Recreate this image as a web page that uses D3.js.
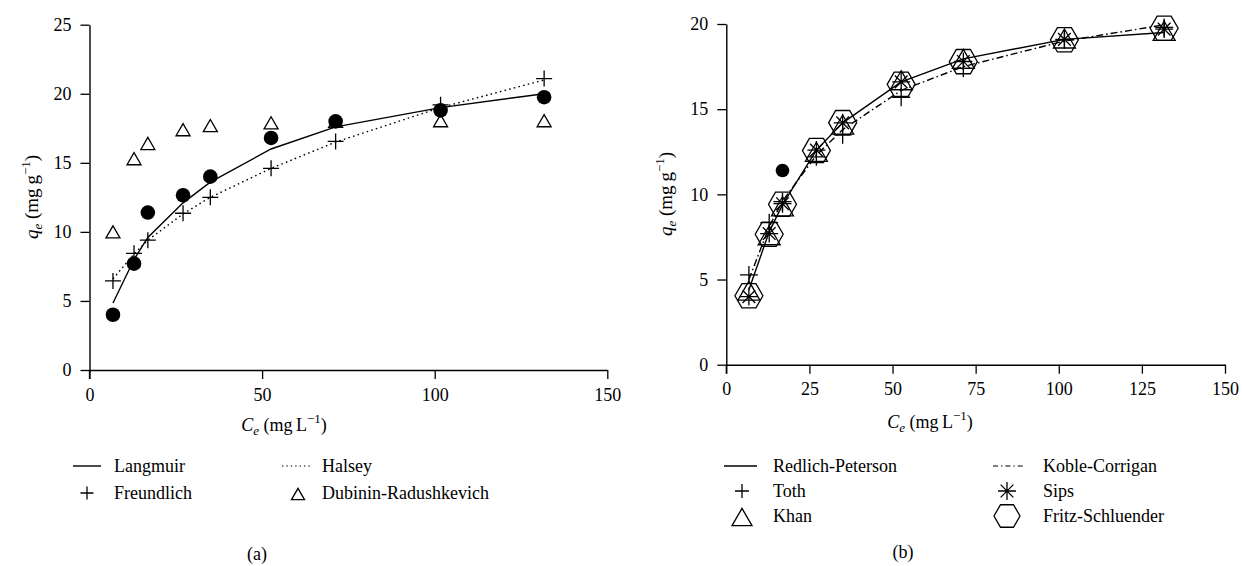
<!DOCTYPE html>
<html>
<head>
<meta charset="utf-8">
<script src="https://cdn.jsdelivr.net/npm/d3@7/dist/d3.min.js"></script>
<style>
  html, body { margin: 0; padding: 0; background: #fff; }
  svg { display: block; }
  text { font-family: "Liberation Serif", "Times New Roman", serif; fill: #000; }
</style>
</head>
<body>
<svg id="fig" width="1242" height="566"></svg>
<script>
// Equilibrium concentration Ce (mg/L) of the nine isotherm points
const ce = [6.8, 12.9, 16.9, 27.1, 35.0, 52.6, 71.3, 101.7, 131.7];
// Experimental uptake qe (mg/g)
const qeExp = [4.0, 7.7, 11.4, 12.65, 14.0, 16.8, 18.0, 18.8, 19.75];

// Panel (a): two-parameter models
const langmuir = [4.85, 8.0, 9.6, 12.1, 13.6, 16.0, 17.6, 19.0, 20.0];
const halsey = [6.6, 8.4, 9.4, 11.3, 12.5, 14.6, 16.5, 19.0, 21.0];
const freundlich = [6.45, 8.45, 9.4, 11.35, 12.5, 14.6, 16.55, 19.2, 21.1];
const dubininRadushkevich = [10.0, 15.3, 16.4, 17.4, 17.7, 17.9, 18.0, 18.05, 18.05];

// Panel (b): three-parameter models
const redlichPeterson = [4.4, 7.8, 9.4, 12.6, 14.2, 16.6, 17.95, 19.1, 19.5];
const kobleCorrigan = [5.0, 8.1, 9.6, 12.3, 13.8, 16.1, 17.5, 19.0, 19.95];
const toth = [5.27, 8.34, 9.57, 12.2, 13.5, 15.7, 17.4, 19.07, 19.8];
const khan = [4.35, 7.6, 9.3, 12.5, 14.1, 16.7, 17.95, 19.15, 19.6];
const sips = [4.0, 7.7, 9.45, 12.6, 14.2, 16.6, 17.8, 19.1, 19.7];
const fritzSchluender = [4.05, 7.66, 9.42, 12.57, 14.21, 16.46, 17.79, 19.07, 19.75];

// Tick values
const xTicksA = [0, 50, 100, 150];
const yTicksA = [0, 5, 10, 15, 20, 25];
const xTicksB = [0, 25, 50, 75, 100, 125, 150];
const yTicksB = [0, 5, 10, 15, 20];

const svg = d3.select("#fig");
const FS = 18;

// ---- marker shapes (path strings centred on 0,0) ----
function plusPath(r) { return `M${-r},0H${r}M0,${-r}V${r}`; }
function trianglePath(s) {
  const h = s * Math.sqrt(3) / 2;
  return `M0,${-h / 2}L${s / 2},${h / 2}L${-s / 2},${h / 2}Z`;
}
function hexagonPath(w) {
  const a = w / 2, b = w / 4, h = w * Math.sqrt(3) / 4;
  return `M${-a},0L${-b},${-h}L${b},${-h}L${a},0L${b},${h}L${-b},${h}Z`;
}
function asteriskPath(r) {
  const d = r * Math.SQRT1_2;
  return `M${-r},0H${r}M0,${-r}V${r}M${-d},${-d}L${d},${d}M${-d},${d}L${d},${-d}`;
}

function axes(g, x, y, xTicks, yTicks) {
  const ax = g.append("g").attr("transform", `translate(0,${y.range()[0]})`)
    .call(d3.axisBottom(x).tickValues(xTicks).tickSize(9).tickPadding(9).tickSizeOuter(0));
  const ay = g.append("g").attr("transform", `translate(${x.range()[0]},0)`)
    .call(d3.axisLeft(y).tickValues(yTicks).tickSize(9).tickPadding(9).tickSizeOuter(0));
  [ax, ay].forEach(a => {
    a.select(".domain").attr("stroke", "#000").attr("stroke-width", 1.4);
    a.selectAll(".tick line").attr("stroke", "#000").attr("stroke-width", 1.3);
    a.selectAll(".tick text").attr("font-size", FS).attr("font-family", "Liberation Serif");
  });
  // a short upward stub at x = 0 makes the corner cross like the y = 0 stub
  g.append("line").attr("x1", x(0)).attr("x2", x(0))
    .attr("y1", y.range()[0]).attr("y2", y.range()[0] + 9)
    .attr("stroke", "#000").attr("stroke-width", 1.3);
}

function yLabel(g, cx, cy) {
  const t = g.append("text").attr("transform", `translate(${cx},${cy}) rotate(-90)`)
    .attr("text-anchor", "middle").attr("font-size", FS + 1);
  t.append("tspan").attr("font-style", "italic").text("q");
  t.append("tspan").attr("font-style", "italic").attr("font-size", 13).attr("dy", 4).text("e");
  t.append("tspan").attr("dy", -4).text(" (mg\u2009g");
  t.append("tspan").attr("font-size", 13).attr("dy", -8).text("\u22121");
  t.append("tspan").attr("dy", 8).text(")");
}
function xLabel(g, cx, by) {
  const t = g.append("text").attr("x", cx).attr("y", by)
    .attr("text-anchor", "middle").attr("font-size", FS);
  t.append("tspan").attr("font-style", "italic").text("C");
  t.append("tspan").attr("font-style", "italic").attr("font-size", 13).attr("dy", 4).text("e");
  t.append("tspan").attr("dy", -4).text(" (mg\u2009L");
  t.append("tspan").attr("font-size", 13).attr("dy", -8).text("\u22121");
  t.append("tspan").attr("dy", 8).text(")");
}

function curve(g, x, y, vals, dash) {
  const line = d3.line().x((d, i) => x(ce[i])).y(d => y(d));
  g.append("path").datum(vals).attr("d", line)
    .attr("fill", "none").attr("stroke", "#000").attr("stroke-width", 1.4)
    .attr("stroke-dasharray", dash || null);
}
function markers(g, x, y, vals, path, fill) {
  g.append("g").selectAll("path").data(vals).join("path")
    .attr("transform", (d, i) => `translate(${x(ce[i])},${y(d)})`)
    .attr("d", path)
    .attr("fill", fill || "none").attr("stroke", "#000").attr("stroke-width", 1.3);
}
function dots(g, x, y, vals, r) {
  g.append("g").selectAll("circle").data(vals).join("circle")
    .attr("cx", (d, i) => x(ce[i])).attr("cy", d => y(d)).attr("r", r).attr("fill", "#000");
}

const DOTTED = "1.6,3.2";
const DASHDOT = "7,3,1.6,3";

// ================= Panel (a) =================
{
  const g = svg.append("g");
  const x = d3.scaleLinear().domain([0, 150]).range([89.5, 607.3]);
  const y = d3.scaleLinear().domain([0, 25]).range([370, 24.7]);
  axes(g, x, y, xTicksA, yTicksA);
  curve(g, x, y, langmuir);
  curve(g, x, y, halsey, DOTTED);
  markers(g, x, y, freundlich, plusPath(8));
  markers(g, x, y, dubininRadushkevich, trianglePath(14));
  dots(g, x, y, qeExp, 7.3);
  yLabel(g, 38, 197);
  xLabel(g, 284, 431);

  // legend
  const L = g.append("g").attr("font-size", FS);
  L.append("line").attr("x1", 73).attr("x2", 101).attr("y1", 466).attr("y2", 466)
    .attr("stroke", "#000").attr("stroke-width", 1.4);
  L.append("text").attr("x", 114).attr("y", 472).text("Langmuir");
  L.append("path").attr("transform", "translate(87,493)").attr("d", plusPath(6.5))
    .attr("stroke", "#000").attr("stroke-width", 1.3);
  L.append("text").attr("x", 114).attr("y", 499).text("Freundlich");
  L.append("line").attr("x1", 282).attr("x2", 310).attr("y1", 466).attr("y2", 466)
    .attr("stroke", "#000").attr("stroke-width", 1.2).attr("stroke-dasharray", "1.4,3");
  L.append("text").attr("x", 322).attr("y", 472).text("Halsey");
  L.append("path").attr("transform", "translate(298,494)").attr("d", trianglePath(13))
    .attr("fill", "none").attr("stroke", "#000").attr("stroke-width", 1.3);
  L.append("text").attr("x", 322).attr("y", 499).text("Dubinin-Radushkevich");

  g.append("text").attr("x", 257).attr("y", 560).attr("text-anchor", "middle")
    .attr("font-size", FS).text("(a)");
}

// ================= Panel (b) =================
{
  const g = svg.append("g");
  const x = d3.scaleLinear().domain([0, 150]).range([726.3, 1225]);
  const y = d3.scaleLinear().domain([0, 20]).range([364.7, 24]);
  axes(g, x, y, xTicksB, yTicksB);
  dots(g, x, y, qeExp, 6.8);
  markers(g, x, y, fritzSchluender, hexagonPath(28), "#fff");
  curve(g, x, y, redlichPeterson);
  curve(g, x, y, kobleCorrigan, DASHDOT);
  markers(g, x, y, khan, trianglePath(22));
  markers(g, x, y, toth, plusPath(9));
  markers(g, x, y, sips, asteriskPath(9));
  yLabel(g, 672, 194);
  xLabel(g, 930, 428);

  // legend
  const L = g.append("g").attr("font-size", FS);
  L.append("line").attr("x1", 724).attr("x2", 757).attr("y1", 466).attr("y2", 466)
    .attr("stroke", "#000").attr("stroke-width", 1.4);
  L.append("text").attr("x", 773).attr("y", 472).text("Redlich-Peterson");
  L.append("path").attr("transform", "translate(742,491)").attr("d", plusPath(7))
    .attr("stroke", "#000").attr("stroke-width", 1.3);
  L.append("text").attr("x", 773).attr("y", 497).text("Toth");
  L.append("path").attr("transform", "translate(742,517)").attr("d", trianglePath(20))
    .attr("fill", "none").attr("stroke", "#000").attr("stroke-width", 1.3);
  L.append("text").attr("x", 773).attr("y", 522).text("Khan");
  L.append("line").attr("x1", 993).attr("x2", 1025).attr("y1", 466).attr("y2", 466)
    .attr("stroke", "#000").attr("stroke-width", 1.2).attr("stroke-dasharray", "5,3,1.4,3");
  L.append("text").attr("x", 1043).attr("y", 472).text("Koble-Corrigan");
  L.append("path").attr("transform", "translate(1007,491)").attr("d", asteriskPath(9))
    .attr("stroke", "#000").attr("stroke-width", 1.3);
  L.append("text").attr("x", 1043).attr("y", 497).text("Sips");
  L.append("path").attr("transform", "translate(1007,516)").attr("d", hexagonPath(26))
    .attr("fill", "none").attr("stroke", "#000").attr("stroke-width", 1.3);
  L.append("text").attr("x", 1043).attr("y", 522).text("Fritz-Schluender");

  g.append("text").attr("x", 903).attr("y", 558).attr("text-anchor", "middle")
    .attr("font-size", FS).text("(b)");
}
</script>
</body>
</html>
